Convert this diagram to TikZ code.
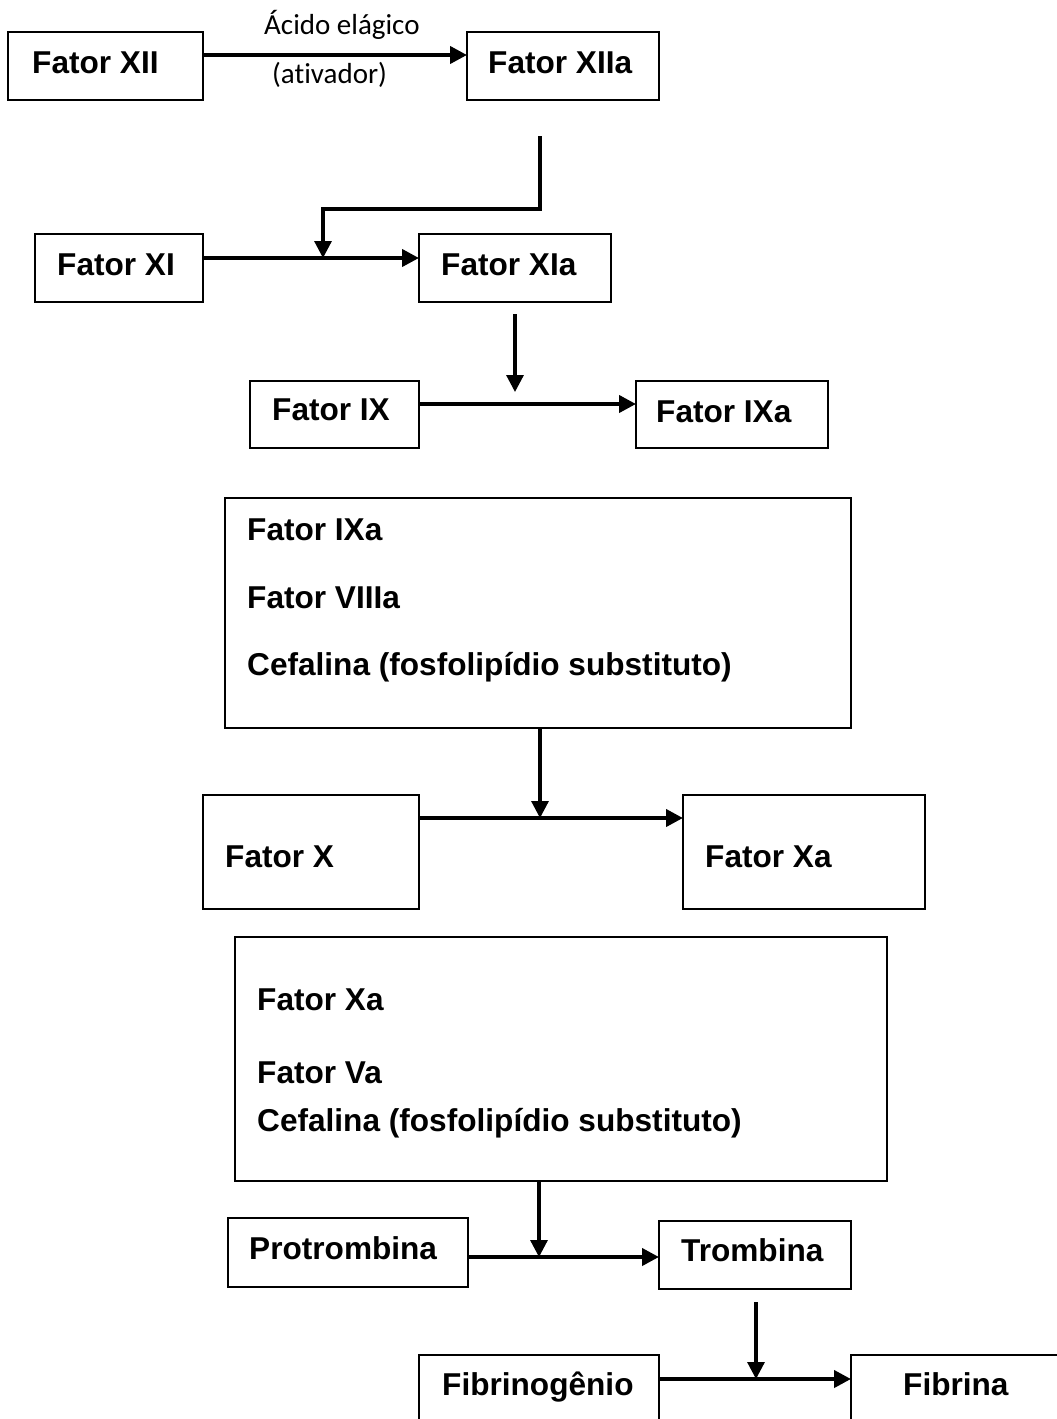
\documentclass[tikz,border=0pt]{standalone}
\usepackage{fontspec}
\setmainfont{Liberation Sans}
\newfontfamily\calibri[Ligatures=NoCommon]{Carlito}
\usetikzlibrary{arrows.meta}
\begin{document}
\begin{tikzpicture}[x=1pt,y=-1pt,
  box/.style={draw=black,line width=2.3pt,inner sep=0pt,outer sep=0pt},
  lbl/.style={anchor=base west,inner sep=0pt,font=\bfseries\fontsize{31.6}{37}\selectfont},
  note/.style={anchor=base west,inner sep=0pt,font=\calibri\fontsize{29}{34}\selectfont},
  harrow/.style={line width=4pt,-{Triangle[length=17pt,width=17pt]}},
  varrow/.style={line width=3.2pt,-{Triangle[length=17pt,width=17pt]}}]
\useasboundingbox (0,0) rectangle (1057,1419);
\clip (0,0) rectangle (1057,1419);
\fill[white] (0,0) rectangle (1057,1419);
% boxes
\node[box,minimum width=195pt,minimum height=68pt] (xii) at (105.5,66) {};
\node[box,minimum width=192pt,minimum height=68pt] (xiia) at (563,66) {};
\node[box,minimum width=168pt,minimum height=68pt] (xi) at (119,268) {};
\node[box,minimum width=192pt,minimum height=68pt] (xia) at (515,268) {};
\node[box,minimum width=169pt,minimum height=67pt] (ix) at (334.5,414.5) {};
\node[box,minimum width=192pt,minimum height=67pt] (ixa) at (732,414.5) {};
\node[box,minimum width=626pt,minimum height=230pt] (cx1) at (538,613) {};
\node[box,minimum width=216pt,minimum height=114pt] (fx) at (311,852) {};
\node[box,minimum width=242pt,minimum height=114pt] (fxa) at (804,852) {};
\node[box,minimum width=652pt,minimum height=244pt] (cx2) at (561,1059) {};
\node[box,minimum width=240pt,minimum height=69pt] (pro) at (348,1252.5) {};
\node[box,minimum width=192pt,minimum height=68pt] (tro) at (755,1255) {};
\node[box,minimum width=240pt,minimum height=105pt] (fib) at (539,1407.5) {};
\node[box,minimum width=249pt,minimum height=105pt] (fibr) at (975.5,1407.5) {};
% texts
\node[lbl] (txii) at (32,73) {Fator XII};
\node[lbl] (txiia) at (488,73) {Fator XIIa};
\node[note] (tac) at (264,34) {Ácido elágico};
\node[note] (tat) at (272,83) {(ativador)};
\node[lbl] (txi) at (57,275) {Fator XI};
\node[lbl] (txia) at (441,275) {Fator XIa};
\node[lbl] (tix) at (272,420) {Fator IX};
\node[lbl] (tixa) at (656,422) {Fator IXa};
\node[lbl] (tc1a) at (247,540) {Fator IXa};
\node[lbl] (tc1b) at (247,608) {Fator VIIIa};
\node[lbl] (tc1c) at (247,675) {Cefalina (fosfolipídio substituto)};
\node[lbl] (tfx) at (225,867) {Fator X};
\node[lbl] (tfxa) at (705,867) {Fator Xa};
\node[lbl] (tc2a) at (257,1010) {Fator Xa};
\node[lbl] (tc2b) at (257,1083) {Fator Va};
\node[lbl] (tc2c) at (257,1131) {Cefalina (fosfolipídio substituto)};
\node[lbl] (tpro) at (249,1259) {Protrombina};
\node[lbl] (ttro) at (681,1261) {Trombina};
\node[lbl] (tfib) at (442,1395) {Fibrinogênio};
\node[lbl] (tfibr) at (903,1395) {Fibrina};
% junction coordinates
\coordinate (s1) at (540,136);
\coordinate (j1) at (323,258);
\coordinate (s2) at (515,314);
\coordinate (j2) at (515,392);
\coordinate (h2) at (515,404);
\coordinate (j3) at (540,818);
\coordinate (j4) at (539,1257);
\coordinate (s5) at (756,1302);
\coordinate (j5) at (756,1379);
% connectors
\draw[harrow] ([yshift=11pt]xii.east) -- ([yshift=11pt]xiia.west);
\draw[varrow] (s1) |- ([yshift=49pt]j1) -- (j1);
\draw[harrow] (xi.east |- j1) -- (xia.west |- j1);
\draw[varrow] (s2) -- (j2);
\draw[harrow] (ix.east |- h2) -- (ixa.west |- h2);
\draw[varrow] (cx1.south -| j3) -- (j3);
\draw[harrow] (fx.east |- j3) -- (fxa.west |- j3);
\draw[varrow] (cx2.south -| j4) -- (j4);
\draw[harrow] (pro.east |- j4) -- (tro.west |- j4);
\draw[varrow] (s5) -- (j5);
\draw[harrow] (fib.east |- j5) -- (fibr.west |- j5);
\end{tikzpicture}
\end{document}
